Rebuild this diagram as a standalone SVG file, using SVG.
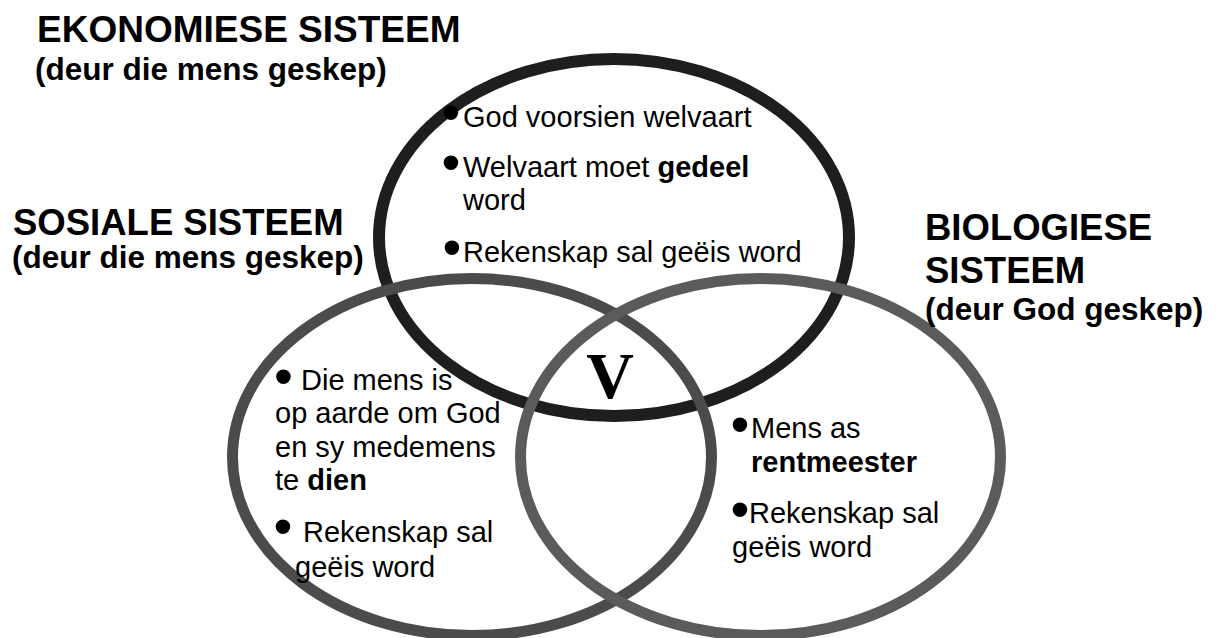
<svg xmlns="http://www.w3.org/2000/svg" width="1220" height="638" viewBox="0 0 1220 638">
<style>
text{font-family:"Liberation Sans",Arial,sans-serif;fill:#000}
.h{font-weight:bold;font-size:36.5px}
.s{font-weight:bold;font-size:31.5px}
.t{font-size:29px}
.b{font-weight:bold}
.bu{font-size:54px;text-anchor:middle}
.ring{fill:none}
</style>
<rect width="1220" height="638" fill="#fff"/>
<g id="economic">
<ellipse class="ring" cx="614" cy="237.5" rx="235" ry="178.5" stroke="#1e1e1e" stroke-width="12"/>
</g>
<g id="social">
<ellipse class="ring" cx="472" cy="457" rx="239.5" ry="178.5" stroke="#4b4b4b" stroke-width="11"/>
</g>
<g id="biological">
<ellipse class="ring" cx="760.5" cy="457" rx="240" ry="178.5" stroke="#5b5b5b" stroke-width="11"/>
</g>
<g id="labels">
<text class="h" x="37" y="42" style="font-size:37px">EKONOMIESE SISTEEM</text>
<text class="s" x="35" y="80">(deur die mens geskep)</text>
<text class="h" x="13" y="235">SOSIALE SISTEEM</text>
<text class="s" x="12" y="268">(deur die mens geskep)</text>
<text class="h" x="925" y="240">BIOLOGIESE</text>
<text class="h" x="925" y="283">SISTEEM</text>
<text class="s" x="925" y="320">(deur God geskep)</text>
</g>
<g id="economic-text">
<text class="bu" x="451" y="130.5">•</text>
<text class="t" x="463" y="127">God voorsien welvaart</text>
<text class="bu" x="451" y="180.5">•</text>
<text class="t" x="463" y="177">Welvaart moet <tspan class="b">gedeel</tspan></text>
<text class="t" x="463" y="210">word</text>
<text class="bu" x="452" y="265.5">•</text>
<text class="t" x="463" y="262">Rekenskap sal geëis word</text>
</g>
<g id="social-text">
<text class="bu" x="283.5" y="394.5">•</text>
<text class="t" x="301" y="390">Die mens is</text>
<text class="t" x="275" y="423">op aarde om God</text>
<text class="t" x="275" y="457">en sy medemens</text>
<text class="t" x="275" y="490">te <tspan class="b">dien</tspan></text>
<text class="bu" x="283" y="544.5">•</text>
<text class="t" x="303" y="542">Rekenskap sal</text>
<text class="t" x="295" y="577">geëis word</text>
</g>
<g id="biological-text">
<text class="bu" x="740" y="442.5">•</text>
<text class="t" x="751" y="438">Mens as</text>
<text class="t b" x="751" y="472">rentmeester</text>
<text class="bu" x="740" y="527.5">•</text>
<text class="t" x="749" y="523">Rekenskap sal</text>
<text class="t" x="732" y="557">geëis word</text>
</g>
<g id="center">
<text x="610" y="398" text-anchor="middle" style="font-family:'Liberation Serif','Times New Roman',serif;font-weight:bold;font-size:66px">V</text>
</g>
<g id="connectors"></g>
</svg>
